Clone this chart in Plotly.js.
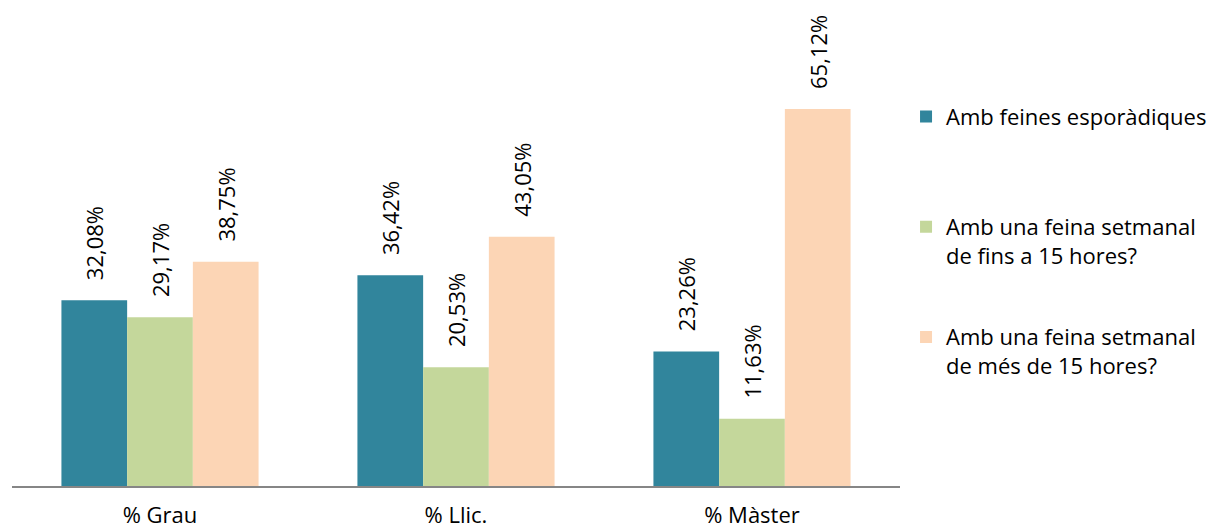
<!DOCTYPE html>
<html>
<head>
<meta charset="utf-8">
<script src="https://cdn.plot.ly/plotly-3.0.1.min.js"></script>
<style>html,body{margin:0;padding:0;background:#fff;}</style>
</head>
<body>
<div id="chart" style="width:1221px;height:529px;"></div>
<script>
const categories = ["% Grau", "% Llic.", "% Màster"];
const seriesNames = [
  "Amb feines esporàdiques<br> ",
  "Amb una feina setmanal<br>de fins a 15 hores?",
  "Amb una feina setmanal<br>de més de 15 hores?"
];
const esporadiques = [32.08, 36.42, 23.26];
const fins15 = [29.17, 20.53, 11.63];
const mes15 = [38.75, 43.05, 65.12];
const colors = ["#31859C", "#C4D79B", "#FCD5B5"];

const values = [esporadiques, fins15, mes15];
const FONT = "'Open Sans', 'DejaVu Sans', sans-serif";

const traces = values.map((v, i) => ({
  type: "bar",
  name: seriesNames[i],
  legendgroup: "g" + i,
  x: categories,
  y: v,
  marker: {color: colors[i], line: {width: 0}},
  texttemplate: "\u00a0\u00a0\u00a0%{y:.2f}%",
  textposition: "outside",
  textangle: -90,
  constraintext: "none",
  cliponaxis: false,
  textfont: {family: FONT, size: 22, color: "#000"},
  hoverinfo: "skip"
}));

const layout = {
  width: 1221,
  height: 529,
  margin: {l: 12, r: 321, t: 23, b: 43, autoexpand: false},
  paper_bgcolor: "#fff",
  plot_bgcolor: "#fff",
  separators: ", ",
  font: {family: FONT, size: 22, color: "#000"},
  barmode: "group",
  bargap: 0.334,
  bargroupgap: 0,
  showlegend: true,
  legend: {
    x: 1.0068, xref: "paper", xanchor: "left",
    y: 0.843, yanchor: "top",
    valign: "top",
    tracegroupgap: 50,
    font: {family: FONT, size: 22, color: "#000"},
    bgcolor: "rgba(0,0,0,0)"
  },
  xaxis: {
    showline: true, linecolor: "#868686", linewidth: 2,
    ticks: "", showgrid: false, zeroline: false,
    tickfont: {family: FONT, size: 22, color: "#000"},
    ticklabelstandoff: 9,
    fixedrange: true
  },
  yaxis: {
    range: [0, 80],
    visible: false, showgrid: false, zeroline: false,
    fixedrange: true
  }
};

Plotly.newPlot("chart", traces, layout, {displayModeBar: false, staticPlot: true});
</script>
</body>
</html>
